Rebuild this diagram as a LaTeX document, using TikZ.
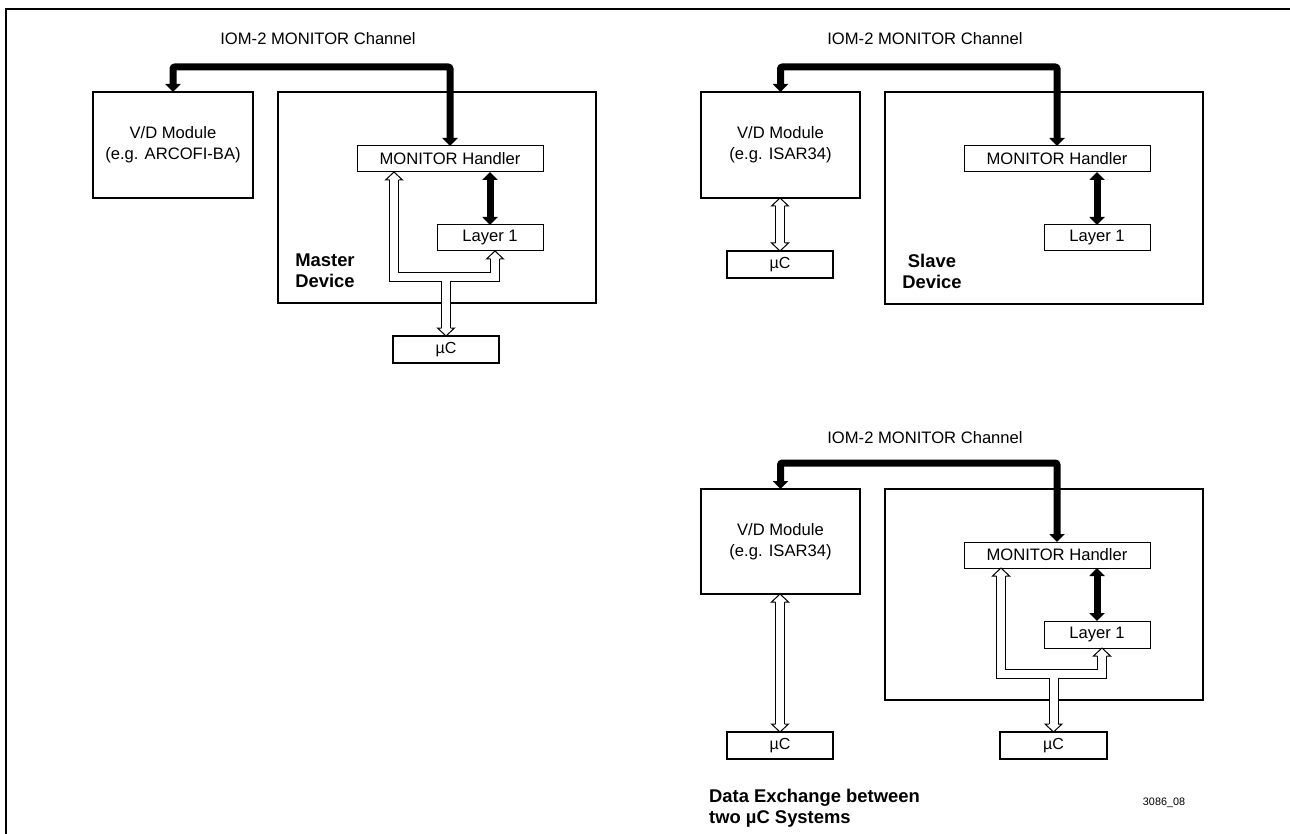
\documentclass[tikz,border=0pt]{standalone}
\usepackage{fontspec}
\setmainfont{Liberation Sans}
\usetikzlibrary{arrows.meta,calc}

\tikzset{
  box/.style={draw, line width=1.6pt, anchor=north west, inner sep=0pt, outer sep=0pt, align=center,
              font=\fontsize{16.6}{21}\selectfont},
  inbox/.style={draw, line width=1pt, anchor=north west, inner sep=0pt, outer sep=0pt,
              font=\fontsize{16.6}{20}\selectfont},
  ucbox/.style={draw, line width=2pt, anchor=north west, inner sep=0pt, outer sep=0pt,
              font=\fontsize{16}{20}\selectfont, minimum width=106pt, minimum height=27pt},
  chtitle/.style={inner sep=0pt, font=\fontsize{16.6}{20}\selectfont},
  devlabel/.style={inner sep=0pt, align=center, font=\fontsize{18.4}{21}\selectfont\bfseries},
  bus/.style={line width=7pt, rounded corners=2pt,
              {Triangle[length=8pt,width=15pt]}-{Triangle[length=8pt,width=15pt]}},
  pipeout/.style={line width=10pt, line join=miter},
  pipein/.style={white, line width=8pt, line join=miter},
  headstyle/.style={fill=white, line width=1pt, line join=miter},
}

\newcommand\HollowUp[1]{\filldraw[headstyle] ($(#1)+(-4.5,8)$) -- ($(#1)+(-8.5,8)$) -- (#1) -- ($(#1)+(8.5,8)$) -- ($(#1)+(4.5,8)$);}
\newcommand\HollowDown[1]{\filldraw[headstyle] ($(#1)+(-4.5,-8)$) -- ($(#1)+(-8.5,-8)$) -- (#1) -- ($(#1)+(8.5,-8)$) -- ($(#1)+(4.5,-8)$);}

\begin{document}
\begin{tikzpicture}[x=1pt,y=-1pt]
\useasboundingbox (0,0) rectangle (1290,834);
\fill[white] (0,0) rectangle (1290,834);

% outer frame (cropped)
\draw[line width=2pt] (6,834) -- (6,9) -- (1290,9);

% ================= Master section =================
\node[chtitle] (mt) at (318,39) {IOM-2 MONITOR Channel};
\node[box, minimum width=160pt, minimum height=106pt] (mvd) at (93,92) {V/D Module\\(e.g. ARCOFI-BA)};
\node[box, minimum width=318pt, minimum height=211pt] (mdev) at (278,92) {};
\node[inbox, minimum width=186pt, minimum height=26pt] (mh) at (357,146) {MONITOR Handler};
\node[inbox, minimum width=106pt, minimum height=26pt] (ml) at (437,225) {Layer 1};
\node[ucbox] (mu) at (393,336) {µC};
\node[devlabel] (mlab) at (325,271) {Master\\Device};

\draw[bus] (mvd.north) |- ($(mh.north)+(0,-79)$) -- (mh.north);
\draw[bus] (ml.north |- mh.south) -- (ml.north);

\coordinate (mLt) at ($(mh.south west)+(37,0)$);
\coordinate (mRt) at ($(ml.south)+(5,0)$);
\coordinate (mJ) at ($(mRt)+(0,26.5)$);
\draw[pipeout] ($(mLt)+(0,8)$) |- (mJ) -- ($(mRt)+(0,8)$);
\draw[pipeout] ($(mu.north)+(0,-8)$) -- (mu.north |- mJ);
\draw[pipein] ($(mLt)+(0,8)$) |- (mJ) -- ($(mRt)+(0,8)$);
\draw[pipein] ($(mu.north)+(0,-8)$) -- (mu.north |- mJ);
\HollowUp{mLt}
\HollowUp{mRt}
\HollowDown{mu.north}

% ================= Slave section =================
\node[chtitle] (st) at (925,39) {IOM-2 MONITOR Channel};
\node[box, minimum width=159pt, minimum height=106pt] (svd) at (701,92) {V/D Module\\(e.g. ISAR34)};
\node[box, minimum width=318pt, minimum height=212pt] (sdev) at (885,92) {};
\node[inbox, minimum width=186pt, minimum height=26pt] (sh) at (964,146) {MONITOR Handler};
\node[inbox, minimum width=106pt, minimum height=26pt] (sl) at (1044,225) {Layer 1};
\node[ucbox] (su) at (727,251) {µC};
\node[devlabel] (slab) at (932,271) {Slave\\Device};

\draw[bus] (svd.north) |- ($(sh.north)+(0,-79)$) -- (sh.north);
\draw[bus] (sl.north |- sh.south) -- (sl.north);

\coordinate (sTop) at (su.north |- svd.south);
\draw[pipeout] ($(sTop)+(0,8)$) -- ($(su.north)+(0,-8)$);
\draw[pipein] ($(sTop)+(0,8)$) -- ($(su.north)+(0,-8)$);
\HollowUp{sTop}
\HollowDown{su.north}

% ================= Data exchange section =================
\node[chtitle] (tt) at (925,438) {IOM-2 MONITOR Channel};
\node[box, minimum width=159pt, minimum height=105pt] (tvd) at (701,489) {V/D Module\\(e.g. ISAR34)};
\node[box, minimum width=318pt, minimum height=211pt] (tdev) at (885,489) {};
\node[inbox, minimum width=186pt, minimum height=26pt] (th) at (964,542) {MONITOR Handler};
\node[inbox, minimum width=106pt, minimum height=27pt] (tl) at (1044,621) {Layer 1};
\node[ucbox] (tuL) at (727,732) {µC};
\node[ucbox, minimum width=107pt] (tuR) at (1000,732) {µC};

\draw[bus] (tvd.north) |- ($(th.north)+(0,-79)$) -- (th.north);
\draw[bus] (tl.north |- th.south) -- (tl.north);

\coordinate (tTop) at (tuL.north |- tvd.south);
\coordinate (tLt) at ($(th.south west)+(37,0)$);
\coordinate (tRt) at ($(tl.south)+(5,0)$);
\coordinate (tJ) at ($(tRt)+(0,26)$);
\draw[pipeout] ($(tTop)+(0,8)$) -- ($(tuL.north)+(0,-8)$);
\draw[pipeout] ($(tLt)+(0,8)$) |- (tJ) -- ($(tRt)+(0,8)$);
\draw[pipeout] ($(tuR.north)+(0,-8)$) -- (tuR.north |- tJ);
\draw[pipein] ($(tTop)+(0,8)$) -- ($(tuL.north)+(0,-8)$);
\draw[pipein] ($(tLt)+(0,8)$) |- (tJ) -- ($(tRt)+(0,8)$);
\draw[pipein] ($(tuR.north)+(0,-8)$) -- (tuR.north |- tJ);
\HollowUp{tTop}
\HollowDown{tuL.north}
\HollowUp{tLt}
\HollowUp{tRt}
\HollowDown{tuR.north}

\node[devlabel, anchor=west, align=left] (tlab) at (709,808.5) {Data Exchange between\\two µC Systems};
\node[inner sep=0pt, font=\fontsize{10.8}{12}\selectfont] (code) at (1164,803) {3086\_08};
\end{tikzpicture}
\end{document}
